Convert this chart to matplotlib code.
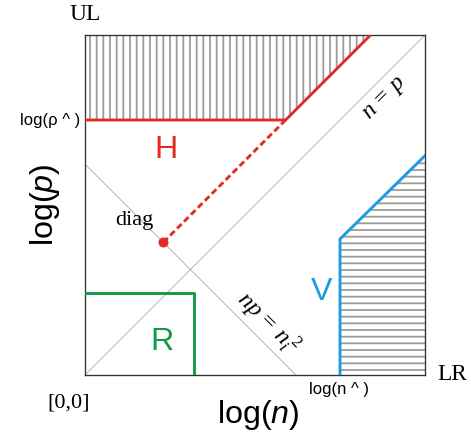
import numpy as np
import matplotlib
matplotlib.use("Agg")
import matplotlib.pyplot as plt

# ---- data (axes span 0..1 in log(n), log(p)) ----
p_hat = 0.75                      # log(p^)
n_hat = 0.75                      # log(n^)
antidiag_sum = 0.62               # np = n_i^2  ->  x + y = const
diag_pt = (0.23, 0.39)            # "diag" point
H_x = [0.0, 0.59, 0.84]           # H boundary (red)
H_y = [0.75, 0.75, 1.0]
V_x = [0.75, 0.75, 1.0]           # V boundary (blue)
V_y = [0.0, 0.40, 0.645]
R_x = [0.0, 0.32, 0.32]           # R boundary (green)
R_y = [0.24, 0.24, 0.0]

RED = "#e32b24"
BLUE = "#1b9ce0"
GREEN = "#0f9a47"
GRAY = "#aaaaaa"

DPI = 80
plt.rcParams["hatch.linewidth"] = 1.6
plt.rcParams["mathtext.fontset"] = "custom"
plt.rcParams["mathtext.rm"] = "Liberation Serif"
plt.rcParams["mathtext.it"] = "Liberation Serif:italic"
plt.rcParams["mathtext.sf"] = "Liberation Sans:italic"

fig = plt.figure(figsize=(471 / DPI, 440 / DPI), dpi=DPI)
W, Hh = 471, 440
ax = fig.add_axes([85 / W, (Hh - 375) / Hh, 340 / W, 340 / Hh])
ax.set_xlim(0, 1)
ax.set_ylim(0, 1)
ax.set_xticks([])
ax.set_yticks([])
for s in ax.spines.values():
    s.set_color("#333333")
    s.set_linewidth(1.2)

# hatched regions
ax.fill_between(H_x, H_y, 1.0, facecolor="none", edgecolor="#9a9a9a",
                hatch="||", linewidth=0, zorder=1)
ax.fill_betweenx(V_y, V_x, 1.0, facecolor="none", edgecolor="#9a9a9a",
                 hatch="--", linewidth=0, zorder=1)

# diagonals
ax.plot([0, 1], [0, 1], color=GRAY, lw=0.8, zorder=2)
ax.plot([0, antidiag_sum], [antidiag_sum, 0], color=GRAY, lw=0.8, zorder=2)

# boundaries
ax.plot(H_x, H_y, color=RED, lw=2.6, zorder=3, solid_capstyle="butt")
ax.plot([diag_pt[0], H_x[1]], [diag_pt[1], H_y[1]], color=RED, lw=2.6,
        dashes=(2.2, 1.2), zorder=3)
ax.plot([diag_pt[0]], [diag_pt[1]], "o", color=RED, ms=8, zorder=4)
ax.plot(V_x, V_y, color=BLUE, lw=2.6, zorder=3)
ax.plot(R_x, R_y, color=GREEN, lw=2.6, zorder=3)

# region labels
ax.text(0.238, 0.662, "H", color=RED, fontsize=29, family="Liberation Sans",
        ha="center", va="center")
ax.text(0.697, 0.244, "V", color=BLUE, fontsize=29, family="Liberation Sans",
        ha="center", va="center")
ax.text(0.226, 0.097, "R", color=GREEN, fontsize=29, family="Liberation Sans",
        ha="center", va="center")
ax.text(0.144, 0.455, "diag", fontsize=20, family="Liberation Serif",
        ha="center", va="center")

ax.text(0.879, 0.815, r"$n\,=\,p$", fontsize=22, rotation=45,
        ha="center", va="center", rotation_mode="anchor")
ax.text(0.538, 0.152, r"$np\,=\,n_i^{\;\mathrm{2}}$", fontsize=22, rotation=-45,
        ha="center", va="center", rotation_mode="anchor")

# corner / tick-like labels
ax.text(0.0, 1.059, "UL", fontsize=21, family="Liberation Serif",
        ha="center", va="center", clip_on=False)
ax.text(1.079, 0.0, "LR", fontsize=21, family="Liberation Serif",
        ha="center", va="center", clip_on=False)
ax.text(-0.047, -0.082, "[0,0]", fontsize=20, family="Liberation Serif",
        ha="center", va="center", clip_on=False)
ax.text(-0.015, p_hat, "log(ρ ^ )", fontsize=15, family="Liberation Sans",
        ha="right", va="center", clip_on=False)
ax.text(n_hat - 0.003, -0.044, "log(n ^ )", fontsize=15,
        family="Liberation Sans", ha="center", va="center", clip_on=False)

# axis titles
ax.text(0.51, -0.118, r"log($\mathsf{n}$)", fontsize=29, family="Liberation Sans",
        ha="center", va="center", clip_on=False)
ax.text(-0.118, 0.5, r"log($\mathsf{p}$)", fontsize=29, family="Liberation Sans",
        ha="center", va="center", rotation=90, clip_on=False)

fig.savefig("out.png", dpi=DPI)
